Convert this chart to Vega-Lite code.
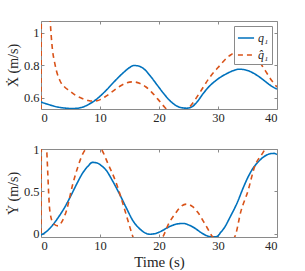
{
  "$schema": "https://vega.github.io/schema/vega-lite/v6.json",
  "padding": {"left": 5, "top": 20, "right": 0, "bottom": 0},
  "background": "white",
  "spacing": 40,
  "bounds": "flush",
  "config": {
    "font": "Liberation Serif, DejaVu Serif, serif",
    "view": {"stroke": "#8a8a8a", "strokeWidth": 1},
    "axis": {
      "grid": false,
      "domain": false,
      "tickColor": "#8a8a8a",
      "tickSize": -3,
      "labelFont": "Liberation Serif, DejaVu Serif, serif",
      "labelFontSize": 12.5,
      "labelColor": "#262626",
      "labelPadding": 5,
      "format": "~r",
      "titleFont": "Liberation Serif, DejaVu Serif, serif",
      "titleFontSize": 14,
      "titleFontWeight": "normal",
      "titleColor": "#262626"
    },
    "legend": {
      "orient": "top-right",
      "offset": 5,
      "fillColor": "white",
      "strokeColor": "#8a8a8a",
      "padding": 3,
      "rowPadding": 2,
      "symbolType": "stroke",
      "symbolSize": 260,
      "symbolStrokeWidth": 1.6,
      "labelOffset": 3,
      "labelFont": "Liberation Serif, DejaVu Serif, serif",
      "labelFontStyle": "italic",
      "labelFontSize": 12,
      "labelColor": "#262626"
    }
  },
  "datasets": {
    "xd": [
      {"t": 0, "v": 0.572, "s": "q₁"}, {"t": 1, "v": 0.56, "s": "q₁"}, {"t": 2, "v": 0.549, "s": "q₁"}, {"t": 3, "v": 0.54, "s": "q₁"}, {"t": 4, "v": 0.535, "s": "q₁"}, {"t": 5, "v": 0.532, "s": "q₁"}, {"t": 6, "v": 0.533, "s": "q₁"}, {"t": 7, "v": 0.54, "s": "q₁"}, {"t": 8, "v": 0.556, "s": "q₁"}, {"t": 9, "v": 0.578, "s": "q₁"}, {"t": 10, "v": 0.608, "s": "q₁"}, {"t": 11, "v": 0.643, "s": "q₁"}, {"t": 12, "v": 0.682, "s": "q₁"}, {"t": 13, "v": 0.72, "s": "q₁"}, {"t": 14, "v": 0.755, "s": "q₁"}, {"t": 15, "v": 0.785, "s": "q₁"}, {"t": 15.7, "v": 0.798, "s": "q₁"}, {"t": 16.5, "v": 0.795, "s": "q₁"}, {"t": 17.5, "v": 0.775, "s": "q₁"}, {"t": 18.7, "v": 0.725, "s": "q₁"}, {"t": 19.8, "v": 0.672, "s": "q₁"}, {"t": 21, "v": 0.615, "s": "q₁"}, {"t": 22, "v": 0.575, "s": "q₁"}, {"t": 23, "v": 0.548, "s": "q₁"}, {"t": 24, "v": 0.536, "s": "q₁"}, {"t": 24.7, "v": 0.534, "s": "q₁"}, {"t": 25.5, "v": 0.541, "s": "q₁"}, {"t": 26.5, "v": 0.575, "s": "q₁"}, {"t": 27.5, "v": 0.625, "s": "q₁"}, {"t": 28.5, "v": 0.668, "s": "q₁"}, {"t": 30, "v": 0.715, "s": "q₁"}, {"t": 31.5, "v": 0.748, "s": "q₁"}, {"t": 32.5, "v": 0.765, "s": "q₁"}, {"t": 33.6, "v": 0.775, "s": "q₁"}, {"t": 34.5, "v": 0.772, "s": "q₁"}, {"t": 35.5, "v": 0.76, "s": "q₁"}, {"t": 36.7, "v": 0.735, "s": "q₁"}, {"t": 38, "v": 0.7, "s": "q₁"}, {"t": 39, "v": 0.672, "s": "q₁"}, {"t": 40, "v": 0.652, "s": "q₁"},
      {"t": 0, "v": 0.3, "s": "q̂₁"}, {"t": 0.1, "v": 1.5, "s": "q̂₁"}, {"t": 1.2, "v": 1.4, "s": "q̂₁"}, {"t": 1.57, "v": 1.07, "s": "q̂₁"}, {"t": 1.85, "v": 0.93, "s": "q̂₁"}, {"t": 2.4, "v": 0.8, "s": "q̂₁"}, {"t": 3.2, "v": 0.705, "s": "q̂₁"}, {"t": 4, "v": 0.665, "s": "q̂₁"}, {"t": 4.8, "v": 0.642, "s": "q̂₁"}, {"t": 6, "v": 0.61, "s": "q̂₁"}, {"t": 7, "v": 0.594, "s": "q̂₁"}, {"t": 8, "v": 0.582, "s": "q̂₁"}, {"t": 8.8, "v": 0.578, "s": "q̂₁"}, {"t": 9.5, "v": 0.58, "s": "q̂₁"}, {"t": 10.2, "v": 0.59, "s": "q̂₁"}, {"t": 11.1, "v": 0.61, "s": "q̂₁"}, {"t": 12.2, "v": 0.64, "s": "q̂₁"}, {"t": 13.3, "v": 0.668, "s": "q̂₁"}, {"t": 14.5, "v": 0.69, "s": "q̂₁"}, {"t": 15.6, "v": 0.697, "s": "q̂₁"}, {"t": 16.7, "v": 0.688, "s": "q̂₁"}, {"t": 17.8, "v": 0.665, "s": "q̂₁"}, {"t": 18.7, "v": 0.635, "s": "q̂₁"}, {"t": 19.8, "v": 0.59, "s": "q̂₁"}, {"t": 21, "v": 0.538, "s": "q̂₁"}, {"t": 22, "v": 0.5, "s": "q̂₁"}, {"t": 23, "v": 0.48, "s": "q̂₁"}, {"t": 24, "v": 0.5, "s": "q̂₁"}, {"t": 24.9, "v": 0.53, "s": "q̂₁"}, {"t": 26, "v": 0.58, "s": "q̂₁"}, {"t": 27.1, "v": 0.641, "s": "q̂₁"}, {"t": 28.5, "v": 0.72, "s": "q̂₁"}, {"t": 30, "v": 0.785, "s": "q̂₁"}, {"t": 31.9, "v": 0.857, "s": "q̂₁"}, {"t": 33, "v": 0.878, "s": "q̂₁"}, {"t": 34, "v": 0.877, "s": "q̂₁"}, {"t": 35.5, "v": 0.86, "s": "q̂₁"}, {"t": 36.7, "v": 0.837, "s": "q̂₁"}, {"t": 37.5, "v": 0.795, "s": "q̂₁"}, {"t": 38.4, "v": 0.744, "s": "q̂₁"}, {"t": 39.1, "v": 0.705, "s": "q̂₁"}, {"t": 40, "v": 0.665, "s": "q̂₁"}
    ],
    "yd": [
      {"t": 0, "v": -0.014, "s": "q₁"}, {"t": 1, "v": 0.03, "s": "q₁"}, {"t": 2, "v": 0.105, "s": "q₁"}, {"t": 3, "v": 0.2, "s": "q₁"}, {"t": 4, "v": 0.31, "s": "q₁"}, {"t": 5, "v": 0.44, "s": "q₁"}, {"t": 6, "v": 0.58, "s": "q₁"}, {"t": 7, "v": 0.71, "s": "q₁"}, {"t": 8, "v": 0.8, "s": "q₁"}, {"t": 8.7, "v": 0.842, "s": "q₁"}, {"t": 9.5, "v": 0.835, "s": "q₁"}, {"t": 10.3, "v": 0.8, "s": "q₁"}, {"t": 11.1, "v": 0.745, "s": "q₁"}, {"t": 12, "v": 0.64, "s": "q₁"}, {"t": 13.3, "v": 0.47, "s": "q₁"}, {"t": 14.5, "v": 0.3, "s": "q₁"}, {"t": 15.6, "v": 0.152, "s": "q₁"}, {"t": 16.7, "v": 0.06, "s": "q₁"}, {"t": 17.8, "v": 0.005, "s": "q₁"}, {"t": 18.5, "v": -0.005, "s": "q₁"}, {"t": 19.5, "v": 0.005, "s": "q₁"}, {"t": 20.5, "v": 0.035, "s": "q₁"}, {"t": 21.5, "v": 0.075, "s": "q₁"}, {"t": 22.5, "v": 0.105, "s": "q₁"}, {"t": 23.5, "v": 0.12, "s": "q₁"}, {"t": 24.1, "v": 0.122, "s": "q₁"}, {"t": 25, "v": 0.105, "s": "q₁"}, {"t": 26.1, "v": 0.065, "s": "q₁"}, {"t": 27, "v": 0.02, "s": "q₁"}, {"t": 28, "v": -0.02, "s": "q₁"}, {"t": 29, "v": -0.036, "s": "q₁"}, {"t": 29.8, "v": -0.033, "s": "q₁"}, {"t": 30.5, "v": 0.02, "s": "q₁"}, {"t": 31.1, "v": 0.074, "s": "q₁"}, {"t": 32, "v": 0.19, "s": "q₁"}, {"t": 33.4, "v": 0.39, "s": "q₁"}, {"t": 34.2, "v": 0.53, "s": "q₁"}, {"t": 35.1, "v": 0.67, "s": "q₁"}, {"t": 36, "v": 0.78, "s": "q₁"}, {"t": 36.8, "v": 0.847, "s": "q₁"}, {"t": 37.8, "v": 0.91, "s": "q₁"}, {"t": 39, "v": 0.946, "s": "q₁"}, {"t": 39.5, "v": 0.948, "s": "q₁"}, {"t": 40, "v": 0.935, "s": "q₁"},
      {"t": 0, "v": -0.1, "s": "q̂₁"}, {"t": 0.08, "v": 1.2, "s": "q̂₁"}, {"t": 0.8, "v": 1.2, "s": "q̂₁"}, {"t": 0.96, "v": 1.0, "s": "q̂₁"}, {"t": 1.5, "v": 0.27, "s": "q̂₁"}, {"t": 2.1, "v": 0.12, "s": "q̂₁"}, {"t": 2.9, "v": 0.093, "s": "q̂₁"}, {"t": 3.6, "v": 0.15, "s": "q̂₁"}, {"t": 4.3, "v": 0.27, "s": "q̂₁"}, {"t": 5.4, "v": 0.59, "s": "q̂₁"}, {"t": 6.3, "v": 0.8, "s": "q̂₁"}, {"t": 7.1, "v": 0.946, "s": "q̂₁"}, {"t": 7.6, "v": 1.0, "s": "q̂₁"}, {"t": 8.9, "v": 1.06, "s": "q̂₁"}, {"t": 10.2, "v": 1.0, "s": "q̂₁"}, {"t": 11.35, "v": 0.827, "s": "q̂₁"}, {"t": 12.8, "v": 0.59, "s": "q̂₁"}, {"t": 13.9, "v": 0.35, "s": "q̂₁"}, {"t": 15, "v": 0.093, "s": "q̂₁"}, {"t": 15.6, "v": -0.04, "s": "q̂₁"}, {"t": 16.5, "v": -0.15, "s": "q̂₁"}, {"t": 18, "v": -0.2, "s": "q̂₁"}, {"t": 19.5, "v": -0.12, "s": "q̂₁"}, {"t": 20.7, "v": -0.03, "s": "q̂₁"}, {"t": 21.6, "v": 0.113, "s": "q̂₁"}, {"t": 22.7, "v": 0.232, "s": "q̂₁"}, {"t": 23.7, "v": 0.32, "s": "q̂₁"}, {"t": 24.7, "v": 0.35, "s": "q̂₁"}, {"t": 25.7, "v": 0.32, "s": "q̂₁"}, {"t": 26.6, "v": 0.25, "s": "q̂₁"}, {"t": 27.5, "v": 0.15, "s": "q̂₁"}, {"t": 28.3, "v": 0.054, "s": "q̂₁"}, {"t": 28.9, "v": -0.02, "s": "q̂₁"}, {"t": 29.5, "v": -0.06, "s": "q̂₁"}, {"t": 31, "v": -0.12, "s": "q̂₁"}, {"t": 32.8, "v": -0.04, "s": "q̂₁"}, {"t": 33.9, "v": 0.27, "s": "q̂₁"}, {"t": 35.1, "v": 0.51, "s": "q̂₁"}, {"t": 36.2, "v": 0.79, "s": "q̂₁"}, {"t": 37.6, "v": 0.955, "s": "q̂₁"}, {"t": 38, "v": 1.0, "s": "q̂₁"}, {"t": 39, "v": 1.1, "s": "q̂₁"}, {"t": 40, "v": 1.15, "s": "q̂₁"}
    ]
  },
  "vconcat": [
    {
      "width": 236,
      "height": 88,
      "data": {"name": "xd"},
      "layer": [
        {
          "mark": {"type": "line", "clip": true, "interpolate": "monotone", "strokeWidth": 1.6},
          "encoding": {
            "x": {"field": "t", "type": "quantitative", "scale": {"domain": [0, 40], "nice": false, "zero": false},
                  "axis": {"values": [0, 10, 20, 30, 40], "title": null}},
            "y": {"field": "v", "type": "quantitative", "scale": {"domain": [0.529, 1.073], "nice": false, "zero": false},
                  "axis": {"values": [0.6, 0.8, 1], "title": "Ẋ (m/s)", "titlePadding": 3}},
            "color": {"field": "s", "type": "nominal", "sort": ["q₁", "q̂₁"],
                      "scale": {"domain": ["q₁", "q̂₁"], "range": ["#0072BD", "#D95319"]}, "legend": {"title": null}},
            "strokeDash": {"field": "s", "type": "nominal", "sort": ["q₁", "q̂₁"],
                           "scale": {"domain": ["q₁", "q̂₁"], "range": [[1, 0], [5, 4]]}, "legend": {"title": null}}
          }
        },
        {
          "mark": {"type": "point", "opacity": 0, "clip": true},
          "encoding": {
            "x": {"field": "t", "type": "quantitative", "axis": {"orient": "top", "values": [0, 10, 20, 30, 40], "labels": false, "title": null}},
            "y": {"field": "v", "type": "quantitative", "axis": {"orient": "right", "values": [0.6, 0.8, 1], "labels": false, "title": null}}
          }
        }
      ],
      "resolve": {"axis": {"x": "independent", "y": "independent"}}
    },
    {
      "width": 236,
      "height": 88,
      "data": {"name": "yd"},
      "layer": [
        {
          "mark": {"type": "line", "clip": true, "interpolate": "monotone", "strokeWidth": 1.6},
          "encoding": {
            "x": {"field": "t", "type": "quantitative", "scale": {"domain": [0, 40], "nice": false, "zero": false},
                  "axis": {"values": [0, 10, 20, 30, 40], "title": "Time (s)", "titlePadding": 3, "titleFontSize": 15}},
            "y": {"field": "v", "type": "quantitative", "scale": {"domain": [-0.038, 1.0], "nice": false, "zero": false},
                  "axis": {"values": [0, 0.5, 1], "title": "Ẏ (m/s)", "titlePadding": 3}},
            "color": {"field": "s", "type": "nominal",
                      "scale": {"domain": ["q₁", "q̂₁"], "range": ["#0072BD", "#D95319"]}, "legend": null},
            "strokeDash": {"field": "s", "type": "nominal",
                           "scale": {"domain": ["q₁", "q̂₁"], "range": [[1, 0], [5, 4]]}, "legend": null}
          }
        },
        {
          "mark": {"type": "point", "opacity": 0, "clip": true},
          "encoding": {
            "x": {"field": "t", "type": "quantitative", "axis": {"orient": "top", "values": [0, 10, 20, 30, 40], "labels": false, "title": null}},
            "y": {"field": "v", "type": "quantitative", "axis": {"orient": "right", "values": [0, 0.5, 1], "labels": false, "title": null}}
          }
        }
      ],
      "resolve": {"axis": {"x": "independent", "y": "independent"}}
    }
  ],
  "resolve": {"scale": {"color": "independent", "strokeDash": "independent"}}
}
